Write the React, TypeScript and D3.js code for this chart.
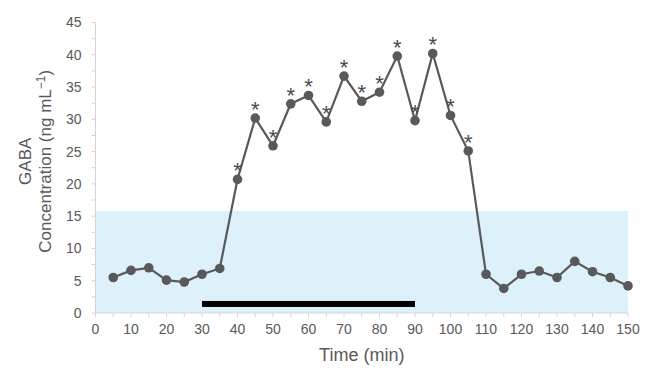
import { useRef, useEffect } from 'react'
import * as d3 from 'd3'

const times = [5, 10, 15, 20, 25, 30, 35, 40, 45, 50, 55, 60, 65, 70, 75, 80, 85, 90, 95, 100, 105, 110, 115, 120, 125, 130, 135, 140, 145, 150]
const gaba = [5.5, 6.6, 7.0, 5.1, 4.8, 6.0, 6.9, 20.7, 30.2, 25.9, 32.4, 33.7, 29.6, 36.7, 32.8, 34.2, 39.8, 29.8, 40.2, 30.6, 25.1, 6.0, 3.8, 6.0, 6.5, 5.5, 8.0, 6.4, 5.5, 4.2]
const significant = [false, false, false, false, false, false, false, true, true, true, true, true, true, true, true, true, true, true, true, true, true, false, false, false, false, false, false, false, false, false]
const xTicks = [0, 10, 20, 30, 40, 50, 60, 70, 80, 90, 100, 110, 120, 130, 140, 150]
const yTicks = [0, 5, 10, 15, 20, 25, 30, 35, 40, 45]
const baselineBand = [0, 15.8]
const treatment = [30, 90]
const treatmentLevel = 1.4

const TEXT = '#595959'
const AXIS = '#d4d4d4'
const FONT = 'Liberation Sans, Arial, sans-serif'

export default function App() {
  const svgRef = useRef<SVGSVGElement>(null)

  useEffect(() => {
    if (!svgRef.current) return
    const svg = d3.select(svgRef.current)
    svg.selectAll('*').remove()

    const width = 653
    const height = 369
    const x = d3.scaleLinear().domain([0, 150]).range([95.5, 628])
    const y = d3.scaleLinear().domain([0, 45]).range([313, 22.5])

    // baseline band
    svg.append('rect')
      .attr('x', x(0)).attr('y', y(baselineBand[1]))
      .attr('width', x(150) - x(0)).attr('height', y(baselineBand[0]) - y(baselineBand[1]))
      .attr('fill', '#ddf1fb')

    // axes
    const minorY = d3.range(0, 45.01, 2.5)
    svg.append('line')
      .attr('x1', x(0)).attr('x2', x(0)).attr('y1', y(0)).attr('y2', y(45))
      .attr('stroke', AXIS).attr('stroke-width', 1)
    svg.selectAll('.ytick').data(minorY).join('line')
      .attr('class', 'ytick')
      .attr('x1', x(0) - 4).attr('x2', x(0))
      .attr('y1', d => y(d)).attr('y2', d => y(d))
      .attr('stroke', AXIS)
    svg.append('line')
      .attr('x1', x(0)).attr('x2', x(150)).attr('y1', y(0)).attr('y2', y(0))
      .attr('stroke', AXIS).attr('stroke-width', 1)
    const minorX = d3.range(0, 150.01, 5)
    svg.selectAll('.xtick').data(minorX).join('line')
      .attr('class', 'xtick')
      .attr('x1', d => x(d)).attr('x2', d => x(d))
      .attr('y1', y(0)).attr('y2', y(0) + 4)
      .attr('stroke', AXIS)

    svg.selectAll('.ylab').data(yTicks).join('text')
      .attr('class', 'ylab')
      .attr('x', x(0) - 14).attr('y', d => y(d))
      .attr('dy', '0.35em').attr('text-anchor', 'end')
      .style('font-family', FONT).style('font-size', '14px').style('fill', TEXT)
      .text(d => d)
    svg.selectAll('.xlab').data(xTicks).join('text')
      .attr('class', 'xlab')
      .attr('x', d => x(d)).attr('y', y(0) + 21)
      .attr('text-anchor', 'middle')
      .style('font-family', FONT).style('font-size', '14px').style('fill', TEXT)
      .text(d => d)

    svg.append('text')
      .attr('x', (x(0) + x(150)) / 2).attr('y', 361)
      .attr('text-anchor', 'middle')
      .style('font-family', FONT).style('font-size', '18px').style('fill', TEXT)
      .text('Time (min)')

    const yl = svg.append('text')
      .attr('transform', `translate(31,${y(23.5)}) rotate(-90)`)
      .attr('text-anchor', 'middle')
      .style('font-family', FONT).style('font-size', '17px').style('fill', TEXT)
    yl.append('tspan').attr('x', 0).attr('dy', 0).text('GABA')
    const l2 = yl.append('tspan').attr('x', 0).attr('dy', 20)
    l2.append('tspan').text('Concentration (ng mL')
    l2.append('tspan').attr('dy', -6).style('font-size', '12px').text('−1')
    l2.append('tspan').attr('dy', 6).text(')')

    // treatment bar
    svg.append('rect')
      .attr('x', x(treatment[0])).attr('y', y(treatmentLevel) - 3)
      .attr('width', x(treatment[1]) - x(treatment[0])).attr('height', 6)
      .attr('fill', '#000')

    const data = times.map((t, i) => ({ t, v: gaba[i], sig: significant[i] }))

    svg.append('path')
      .datum(data)
      .attr('d', d3.line<{ t: number; v: number }>().x(d => x(d.t)).y(d => y(d.v)))
      .attr('fill', 'none').attr('stroke', TEXT).attr('stroke-width', 2.2)

    svg.selectAll('.pt').data(data).join('circle')
      .attr('class', 'pt')
      .attr('cx', d => x(d.t)).attr('cy', d => y(d.v)).attr('r', 4.8)
      .attr('fill', TEXT)

    svg.selectAll('.star').data(data.filter(d => d.sig)).join('text')
      .attr('class', 'star')
      .attr('x', d => x(d.t)).attr('y', d => y(d.v) - 1)
      .attr('text-anchor', 'middle')
      .style('font-family', FONT).style('font-size', '22px').style('fill', '#4a4a4a')
      .text('*')

    svg.attr('width', width).attr('height', height)
  }, [])

  return (
    <svg ref={svgRef} width={653} height={369}
      style={{ position: 'absolute', left: 0, top: 0, background: '#fff' }} />
  )
}
